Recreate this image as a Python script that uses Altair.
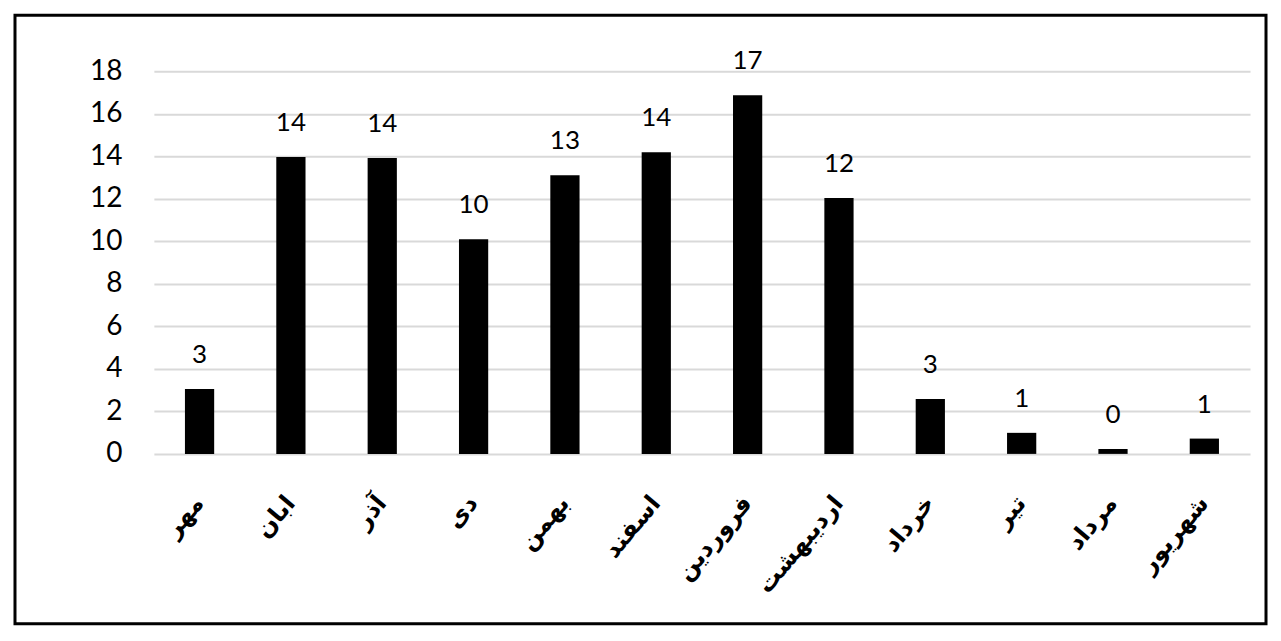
import altair as alt
import pandas as pd

months = ["مهر", "ابان", "آذر", "دی", "بهمن", "اسفند", "فروردین", "اردیبهشت", "خرداد", "تیر", "مرداد", "شهریور"]
values = [3.05, 13.97, 13.92, 10.1, 13.11, 14.19, 16.87, 12.04, 2.58, 0.99, 0.23, 0.72]
y_ticks = [0, 2, 4, 6, 8, 10, 12, 14, 16, 18]

df = pd.DataFrame({"month": months, "value": values})

W, H = 1097, 383

x = alt.X("month:N", sort=months, title=None,
          scale=alt.Scale(paddingInner=0.68, paddingOuter=0.34),
          axis=alt.Axis(domain=False, ticks=False, grid=False, labelAngle=-50,
                        labelAlign="right", labelBaseline="middle", labelPadding=45,
                        labelFont="DejaVu Sans", labelFontWeight="bold", labelFontSize=24,
                        labelColor="black"))
y = alt.Y("value:Q", title=None,
          scale=alt.Scale(domain=[0, 18], nice=False),
          axis=alt.Axis(values=y_ticks, domain=False, ticks=False, grid=True,
                        gridColor="#d9d9d9", gridWidth=2, labelPadding=32,
                        labelFont="Lato", labelFontSize=28, labelColor="black"))

bars = alt.Chart(df).mark_bar(color="black").encode(x=x, y=y)
labels = alt.Chart(df).mark_text(font="Lato", fontSize=26, color="black",
                                 baseline="alphabetic", dy=-26).encode(
    x=alt.X("month:N", sort=months), y=alt.Y("value:Q"),
    text=alt.Text("value:Q", format=".0f"))

frame = alt.Chart(pd.DataFrame({"a": [0]})).mark_rect(
    fillOpacity=0, stroke="black", strokeWidth=3).encode(
    x=alt.value(-139), x2=alt.value(W + 16), y=alt.value(-56), y2=alt.value(H + 170))

chart = alt.layer(bars, labels, frame).properties(width=W, height=H, padding=5).configure_view(strokeWidth=0)

chart.save("out.html", embed_options={"renderer": "svg", "actions": False})
